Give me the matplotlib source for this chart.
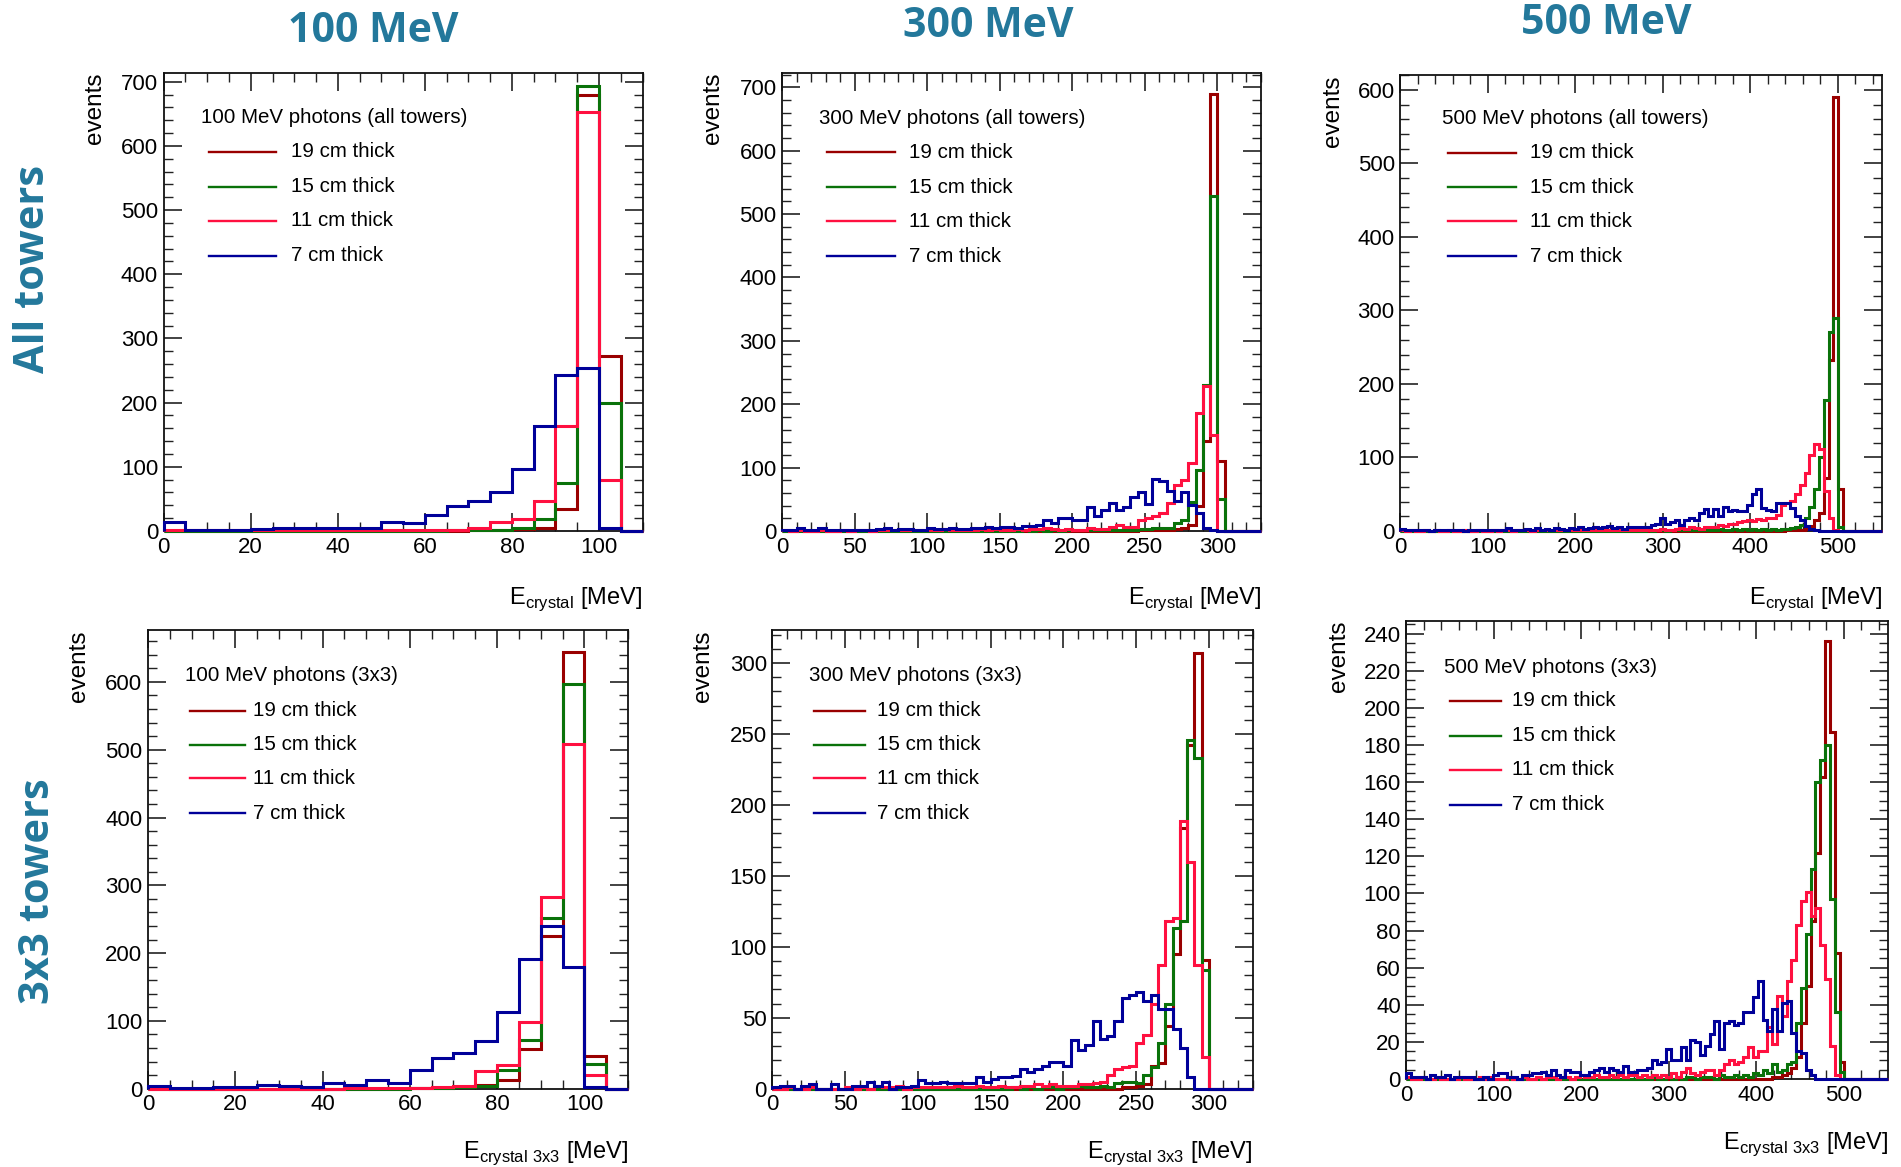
import numpy as np
import matplotlib
matplotlib.use('Agg')
import matplotlib.pyplot as plt
from matplotlib.ticker import MultipleLocator

plt.rcParams['font.family'] = ['Liberation Sans', 'DejaVu Sans']
plt.rcParams['mathtext.fontset'] = 'custom'
plt.rcParams['mathtext.rm'] = 'Liberation Sans'

# ---------------- data ----------------
series_labels = ['19 cm thick', '15 cm thick', '11 cm thick', '7 cm thick']
column_titles = ['100 MeV', '300 MeV', '500 MeV']
row_titles = ['All towers', '3x3 towers']

# 100 MeV, all towers (22 bins, 0-110 MeV)
p1_19 = [0,0,0,0,0,0,0,0,0,0,0,0,0,0,1,1,3,5,35,680,272,0]
p1_15 = [0,0,0,0,0,0,0,0,0,0,0,0,0,1,2,2,5,19,75,694,200,0]
p1_11 = [1,1,2,1,1,1,1,1,1,2,1,1,1,2,5,14,19,46,164,652,80,0]
p1_7  = [14,1,1,1,3,4,4,4,5,5,14,12,25,39,46,60,96,163,243,254,5,0]

# 300 MeV, all towers (66 bins, 0-330 MeV)
p2_19 = [0,0,1,0,0,0,0,0,0,0, 0,0,0,0,0,0,0,0,0,0, 0,0,0,0,0,0,0,0,0,0,
         0,0,0,0,0,0,0,0,0,0, 0,0,0,0,0,0,0,0,0,1, 1,1,1,2,3,5,10,39,142,690,
         110,0,0,0,0,0]
p2_15 = [0,0,0,0,0,0,0,0,0,0, 0,0,0,0,0,0,0,0,0,0, 0,0,0,0,0,0,0,0,0,0,
         0,0,0,1,0,1,0,1,0,1, 1,1,1,1,1,2,1,2,2,3, 3,4,4,4,13,17,45,96,231,528,
         51,0,0,0,0,0]
p2_11 = [1,0,1,0,0,2,0,0,1,0, 1,1,0,1,2,1,1,1,2,1, 1,2,3,2,2,2,2,3,2,3,
         2,2,3,2,3,3,4,3,2,3, 2,2,4,3,3,6,9,6,7,17, 20,24,29,44,72,81,107,186,229,152,
         0,0,0,0,0,0]
p2_7  = [2,1,4,1,1,5,1,1,1,2, 2,1,2,3,4,2,3,3,2,2, 4,3,3,4,3,3,4,4,6,5,
         6,7,5,8,8,10,17,13,21,21, 17,17,38,24,33,44,33,38,54,62, 42,82,79,63,47,61,41,28,4,1,
         0,0,0,0,0,0]

# 500 MeV, all towers (100 bins, 0-550 MeV)
p3_19 = [0]*80 + [1,1,2,1,3,7,15,25,72,232, 590,57,0,0,0,0,0,0,0,0]
p3_15 = ([0]*50 + [0,1,0,1,1,0,1,1,1,2, 1,2,1,2,2,2,3,2,2,3,
                   2,3,2,3,2,3,2,3,2,3]
         + [3,4,5,8,17,32,57,101,178,270, 290,5,0,0,0,0,0,0,0,0])
p3_11 = ([1,0,1,0,0,1,0,1,0,0, 1,0,0,1,0,0,1,0,0,1, 0,1,1,0,1,1,1,0,1,1,
          1,1,2,1,1,1,2,1,1,2, 1,2,1,2,2,1,2,2,1,2]
         + [1,2,1,2,3,2,2,3,4,3, 5,4,3,5,6,6,8,7,9,10,
            12,14,15,14,16,15,18,17,22,35, 38,41,50,62,79,103,118,111,55,17,
            2,0,0,0,0,0,0,0,0,0])
p3_7  = [3,1,2,1,1,2,0,1,1,1, 1,2,1,0,1,1,1,2,1,1, 1,1,4,1,2,2,3,2,4,2,
         3,2,4,3,2,4,3,5,3,4, 6,4,5,7,4,5,3,6,5,6, 5,5,8,10,
         17,10,12,15,8,15,17,15,25,30, 20,30,21,32,27,28,27,27,35,50,
         57,31,28,27,38,38,38,31,20,15, 7,3,1,0,0,0,0,0,0,0, 0,0,0,0,0,0]

# 100 MeV, 3x3 (22 bins, 0-110 MeV)
p4_19 = [0,0,0,0,0,0,0,0,0,0,0,0,1,1,2,6,13,58,225,644,48,0]
p4_15 = [1,0,0,0,0,0,0,0,0,0,0,0,1,1,2,4,27,72,252,597,36,0]
p4_11 = [0,0,0,0,0,0,0,0,0,1,1,1,1,3,4,26,35,98,283,508,20,0]
p4_7  = [4,1,1,2,2,5,4,3,9,6,13,9,27,45,53,71,113,192,240,179,2,0]

# 300 MeV, 3x3 (66 bins, 0-330 MeV)
p5_19 = [0]*48 + [1,1,2,3,16,18,44,95,184,242, 307,91,0,0,0,0,0,0]
p5_15 = ([0,0,0,0,0,0,0,0,0,0, 0,0,0,0,0,0,0,0,0,0, 0,0,0,0,0,0,0,0,0,0,
          0,0,0,1,0,1,0,1,1,0]
         + [1,1,2,1,1,2,1,4,5,5, 4,10,15,32,60,113,118,246,233,84, 0,0,0,0,0,0])
p5_11 = ([0,0,1,0,0,1,0,0,0,0, 1,0,1,0,2,1,1,2,0,1, 1,1,1,1,1,2,1,1,2,1,
          1,2,1,1,2,2,3,2,3,2, 2,2,3]
         + [3,4,5,10,14,15,16,32,38,60, 87,118,120,189,160,87,22, 0,0,0,0,0,0])
p5_7  = [1,2,2,0,2,3,0,0,3,0, 0,2,2,5,2,5,0,1,1,2, 6,4,4,5,4,4,4,4,8,5,
         7,8,8,9,14,12,14,16,19,19, 16,34,27,31,48,35,37,48,64,66,
         68,62,66,56,56,42,29,8, 0,0,0,0,0,0,0,0]

# 500 MeV, 3x3 (100 bins, 0-550 MeV)
p6_19 = [0]*76 + [1,1,2,3,6,12,30,50,85,122, 163,236,187,68,9, 0,0,0,0,0,0,0,0,0]
p6_15 = ([0]*50 + [0,1,0,0,1,0,1,0,1,1, 0,1,1,1,0,2,1,1,2,1]
         + [2,1,3,2,5,3,8,4,5,8, 9,30,49,78,113,160,172,180,97,36, 4,0,0,0,0,0,0,0,0,0])
p6_11 = ([1,0,0,1,0,0,1,0,0,0, 0,1,0,0,0,1,0,1,0,0, 0,1,0,0,1,0,0,1,0,1,
          1,0,1,1,0,1,2,1,1,2, 1,1,2,1,2,1,2,2,1,2, 1,2,1,2,1]
         + [3,1,4,6,3,2,4,5,5,2, 5,8,10,8,
            9,12,17,12,15,15,28,19,45,34, 53,64,83,96,101,88,92,72,54,18,
            2,0,0,0,0,0,0,0,0,0, 0])
p6_7  = [3,1,1,1,0,2,1,1,2,0, 1,1,1,1,0,0,1,0,2,3, 3,1,1,0,2,2,3,3,4,2,
         5,2,1,5,4,4,2,2,4,5, 6,4,6,5,4,7,4,4,5,5, 6,10,
         8,9,16,10,10,17,10,21,20,13, 18,24,31,16,30,31,29,30,36,36,
         44,53,32,26,38,26,41,42,25,15, 14,5,2,0,0,0,0,0,0,0, 0,0,0,0,0,0,0,0]

# ---------------- styles ----------------
colors = ['#990000', '#0a720a', '#ff1040', '#000099']
teal = '#23789b'

panels = [
    dict(data=[p1_19, p1_15, p1_11, p1_7], xmax=110, ymax=714, xmaj=20, xmin=5,
         ymaj=100, ymin=20, pos=[0.0861, 0.545, 0.2519, 0.3927],
         title='100 MeV photons (all towers)', xl=r'E$_{\mathregular{crystal}}$ [MeV]',
         leg=dict(tx=0.078, ty=0.902, l0=0.094, l1=0.235, tx2=0.266,
                  ys=[0.828, 0.751, 0.677, 0.601]), ev=-0.144, xly=-0.159),
    dict(data=[p2_19, p2_15, p2_11, p2_7], xmax=330, ymax=723, xmaj=50, xmin=10,
         ymaj=100, ymin=20, pos=[0.4114, 0.545, 0.2519, 0.3927],
         title='300 MeV photons (all towers)', xl=r'E$_{\mathregular{crystal}}$ [MeV]',
         leg=dict(tx=0.078, ty=0.900, l0=0.094, l1=0.236, tx2=0.266,
                  ys=[0.826, 0.750, 0.676, 0.600]), ev=-0.144, xly=-0.159),
    dict(data=[p3_19, p3_15, p3_11, p3_7], xmax=550, ymax=620, xmaj=100, xmin=20,
         ymaj=100, ymin=20, pos=[0.7366, 0.545, 0.2532, 0.3906],
         title='500 MeV photons (all towers)', xl=r'E$_{\mathregular{crystal}}$ [MeV]',
         leg=dict(tx=0.086, ty=0.905, l0=0.100, l1=0.240, tx2=0.270,
                  ys=[0.830, 0.754, 0.680, 0.603]), ev=-0.139, xly=-0.159),
    dict(data=[p4_19, p4_15, p4_11, p4_7], xmax=110, ymax=676, xmaj=20, xmin=5,
         ymaj=100, ymin=20, pos=[0.0778, 0.0671, 0.2526, 0.3927],
         title='100 MeV photons (3x3)', xl=r'E$_{\mathregular{crystal\ 3x3}}$ [MeV]',
         leg=dict(tx=0.078, ty=0.902, l0=0.088, l1=0.202, tx2=0.218,
                  ys=[0.825, 0.751, 0.677, 0.601]), ev=-0.144, xly=-0.151),
    dict(data=[p5_19, p5_15, p5_11, p5_7], xmax=330, ymax=323, xmaj=50, xmin=10,
         ymaj=50, ymin=10, pos=[0.4063, 0.0671, 0.2526, 0.3927],
         title='300 MeV photons (3x3)', xl=r'E$_{\mathregular{crystal\ 3x3}}$ [MeV]',
         leg=dict(tx=0.076, ty=0.902, l0=0.086, l1=0.192, tx2=0.217,
                  ys=[0.825, 0.751, 0.677, 0.601]), ev=-0.144, xly=-0.151),
    dict(data=[p6_19, p6_15, p6_11, p6_7], xmax=550, ymax=247, xmaj=100, xmin=20,
         ymaj=20, ymin=5, pos=[0.7398, 0.0754, 0.2532, 0.3927],
         title='500 MeV photons (3x3)', xl=r'E$_{\mathregular{crystal\ 3x3}}$ [MeV]',
         leg=dict(tx=0.078, ty=0.899, l0=0.090, l1=0.196, tx2=0.219,
                  ys=[0.825, 0.749, 0.675, 0.598]), ev=-0.139, xly=-0.153),
]

fig = plt.figure(figsize=(19.01, 11.67), dpi=100)

for p in panels:
    ax = fig.add_axes(p['pos'])
    nb = len(p['data'][0])
    edges = np.linspace(0, p['xmax'], nb + 1)
    for vals, c in zip(p['data'], colors):
        ax.stairs(vals, edges, baseline=0, fill=False, color=c, lw=2.2,
                  clip_on=False, zorder=3)
    ax.set_xlim(0, p['xmax'])
    ax.set_ylim(0, p['ymax'])
    ax.xaxis.set_major_locator(MultipleLocator(p['xmaj']))
    ax.xaxis.set_minor_locator(MultipleLocator(p['xmin']))
    ax.yaxis.set_major_locator(MultipleLocator(p['ymaj']))
    ax.yaxis.set_minor_locator(MultipleLocator(p['ymin']))
    ax.tick_params(which='both', direction='in', top=True, right=True,
                   colors='#222222', labelcolor='black')
    ax.tick_params(which='major', length=13, width=1.2, labelsize=16, pad=4)
    ax.tick_params(which='minor', length=6.5, width=1.0)
    for s in ax.spines.values():
        s.set_linewidth(1.3)
        s.set_color('#111111')
    # legend-like annotation
    lg = p['leg']
    ax.text(lg['tx'], lg['ty'], p['title'], transform=ax.transAxes,
            fontsize=14.8, ha='left', va='center')
    for y, lab, c in zip(lg['ys'], series_labels, colors):
        ax.plot([lg['l0'], lg['l1']], [y, y], transform=ax.transAxes,
                color=c, lw=1.7)
        ax.text(lg['tx2'], y, lab, transform=ax.transAxes, fontsize=14.8,
                ha='left', va='center')
    ax.text(p['ev'], 1.0, 'events', transform=ax.transAxes, rotation=90,
            fontsize=17.5, ha='center', va='top')
    ax.text(1.0, p['xly'], p['xl'], transform=ax.transAxes, fontsize=17,
            ha='right', va='baseline')

# column titles and row labels
col_x = [373 / 1901, 988 / 1901, 1606 / 1901]
col_y = [0.973, 0.977, 0.980]
for t, x, y in zip(column_titles, col_x, col_y):
    fig.text(x, y, t, fontsize=29.5, fontweight='bold', color=teal,
             family=['Open Sans', 'DejaVu Sans'], ha='center', va='center')
fig.text(34 / 1901, 1 - 269 / 1167, row_titles[0], fontsize=30, fontweight='bold',
         color=teal, family=['Open Sans', 'DejaVu Sans'], rotation=90,
         ha='center', va='center')
fig.text(39 / 1901, 1 - 891 / 1167, row_titles[1], fontsize=30, fontweight='bold',
         color=teal, family=['Open Sans', 'DejaVu Sans'], rotation=90,
         ha='center', va='center')

fig.savefig('out.png', dpi=100)
